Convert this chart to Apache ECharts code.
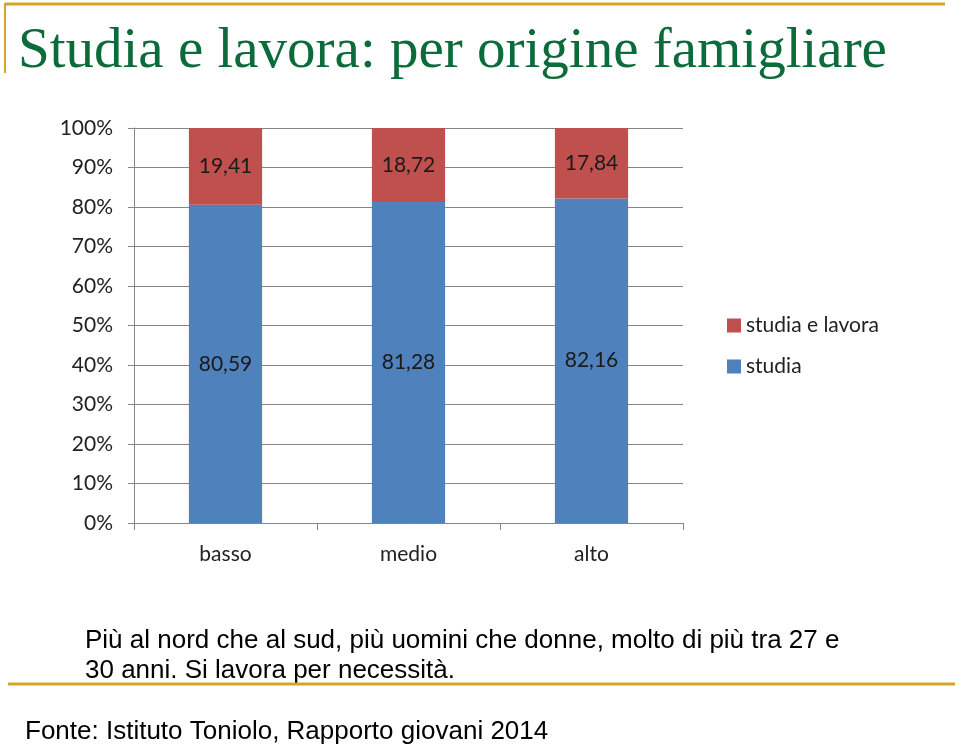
<!DOCTYPE html>
<html><head><meta charset="utf-8">
<script src="https://cdn.jsdelivr.net/npm/echarts@6/dist/echarts.min.js"></script>
<style>html,body{margin:0;padding:0;background:#fff}#c{width:960px;height:745px}</style>
</head><body><div id="c"></div>
<script>
const categories = ['basso', 'medio', 'alto'];
const studia = [80.59, 81.28, 82.16];
const studiaLavora = [19.41, 18.72, 17.84];
const seriesNames = ['studia', 'studia e lavora'];
const titleText = 'Studia e lavora: per origine famigliare';
const noteLines = ['Più al nord che al sud, più uomini che donne, molto di più tra 27 e', '30 anni. Si lavora per necessità.'];
const sourceText = 'Fonte: Istituto Toniolo, Rapporto giovani 2014';

const fmt = v => v.toFixed(2).replace('.', ',');
const chart = echarts.init(document.getElementById('c'), null, {renderer: 'canvas'});
const axisFont = 'Lato, "Open Sans", sans-serif';
chart.setOption({
  animation: false,
  backgroundColor: '#fff',
  grid: {left: 134, right: 277, top: 128, bottom: 222},
  legend: {
    orient: 'vertical', left: 722, top: 310, itemGap: 20,
    itemWidth: 14, itemHeight: 14, icon: 'rect',
    data: ['studia e lavora', 'studia'],
    textStyle: {fontFamily: axisFont, fontSize: 21, color: '#222'}
  },
  xAxis: {
    type: 'category', data: categories,
    axisLine: {lineStyle: {color: '#868686'}},
    axisTick: {show: true, length: 7, lineStyle: {color: '#868686'}},
    axisLabel: {fontFamily: axisFont, fontSize: 21, color: '#222', margin: 21}
  },
  yAxis: {
    type: 'value', min: 0, max: 100, interval: 10,
    axisLine: {show: true, lineStyle: {color: '#868686'}},
    axisTick: {show: true, length: 6, lineStyle: {color: '#868686'}},
    splitLine: {lineStyle: {color: '#868686'}},
    axisLabel: {formatter: '{value}%', fontFamily: axisFont, fontSize: 21, color: '#222', margin: 21}
  },
  series: [
    {name: seriesNames[0], type: 'bar', stack: 's', data: studia, barWidth: '40%',
     itemStyle: {color: '#4F81BD'},
     label: {show: true, position: 'inside', formatter: p => fmt(p.value), fontFamily: axisFont, fontSize: 21, color: '#1a1a1a'}},
    {name: seriesNames[1], type: 'bar', stack: 's', data: studiaLavora, barWidth: '40%',
     itemStyle: {color: '#C0504D'},
     label: {show: true, position: 'inside', formatter: p => fmt(p.value), fontFamily: axisFont, fontSize: 21, color: '#1a1a1a'}}
  ],
  graphic: [
    {type: 'line', shape: {x1: 5, y1: 4, x2: 945, y2: 4}, style: {stroke: '#D4A52A', lineWidth: 3}},
    {type: 'line', shape: {x1: 5, y1: 3, x2: 5, y2: 73}, style: {stroke: '#D4A52A', lineWidth: 2}},
    {type: 'text', left: 18, top: 24, style: {text: titleText, font: '57px "Liberation Serif", serif', fill: '#0B6B3A'}},
    {type: 'text', left: 85, top: 628, style: {text: noteLines[0], font: '26px "Liberation Sans", Arial, sans-serif', fill: '#000'}},
    {type: 'text', left: 85, top: 658, style: {text: noteLines[1], font: '26px "Liberation Sans", Arial, sans-serif', fill: '#000'}},
    {type: 'line', shape: {x1: 8, y1: 684, x2: 955, y2: 684}, style: {stroke: '#D4A52A', lineWidth: 3}},
    {type: 'text', left: 25, top: 719, style: {text: sourceText, font: '26px "Liberation Sans", Arial, sans-serif', fill: '#000'}}
  ]
});
</script></body></html>
